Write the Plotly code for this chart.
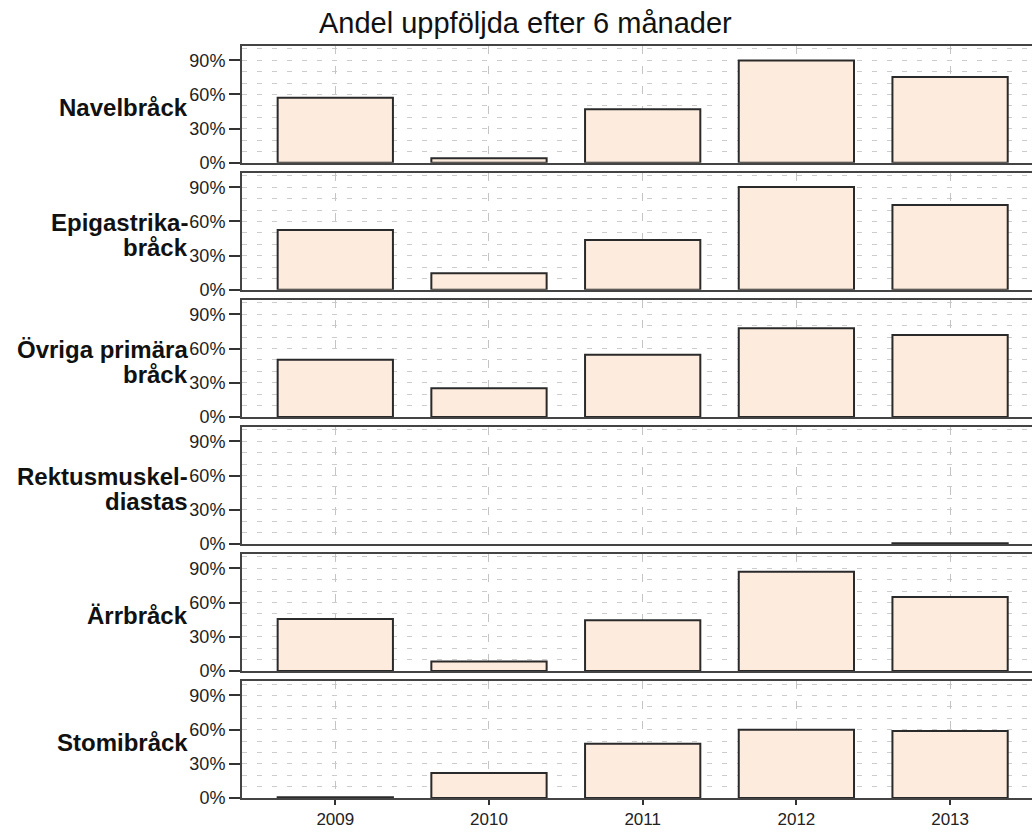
import plotly.graph_objects as go
from plotly.subplots import make_subplots

years = ["2009", "2010", "2011", "2012", "2013"]
group_lines = [["Navelbråck"], ["Epigastrika-", "bråck"], ["Övriga primära", "bråck"],
               ["Rektusmuskel-", "diastas"], ["Ärrbråck"], ["Stomibråck"]]
navel = [0.570, 0.041, 0.470, 0.897, 0.754]
epigastrika = [0.526, 0.146, 0.438, 0.903, 0.745]
ovriga = [0.502, 0.251, 0.546, 0.777, 0.719]
rektus = [None, None, None, None, 0.006]
arr = [0.456, 0.082, 0.444, 0.871, 0.649]
stomi = [0.006, 0.219, 0.476, 0.599, 0.587]
series = [navel, epigastrika, ovriga, rektus, arr, stomi]
yticks = [0, 0.3, 0.6, 0.9]

W, H = 1032, 832
L, R, T, B = 242, 0, 46, 34
plot_h = H - T - B
plot_w = W - L - R
gap = 10.2
fig = make_subplots(rows=6, cols=1, shared_xaxes=True, vertical_spacing=gap / plot_h)

font = "Liberation Sans, Arial, sans-serif"
for i, vals in enumerate(series):
    fig.add_trace(go.Bar(x=years, y=vals, width=0.75,
                         marker=dict(color="#FDEBDD", line=dict(color="#2a2a2a", width=2)),
                         showlegend=False, hoverinfo="skip"), row=i + 1, col=1)
    fig.update_yaxes(row=i + 1, col=1, range=[0, 1.025], tickvals=yticks, tickformat=".0%",
                     ticks="outside", ticklen=11, tickwidth=2, tickcolor="#333",
                     showline=True, linecolor="#444", linewidth=2, automargin=False,
                     showgrid=True, gridcolor="#cccccc", griddash="5px,10px", gridwidth=1,
                     minor=dict(dtick=0.1, tick0=0, showgrid=True, gridcolor="#cccccc",
                                griddash="5px,10px", gridwidth=1),
                     tickfont=dict(size=18, color="#222", family=font), zeroline=False,
                     fixedrange=True)
    fig.update_xaxes(row=i + 1, col=1, range=[-0.607, 4.533], showline=True, mirror=True,
                     linecolor="#444", linewidth=2, showgrid=True, gridcolor="#c4c4c4",
                     griddash="8px,12px", gridwidth=1, automargin=False,
                     ticks="outside" if i == 5 else "", ticklen=5, tickwidth=2, tickcolor="#333",
                     tickfont=dict(size=17, color="#222", family=font), fixedrange=True)

# row labels
dom_h = (plot_h - 5 * gap) / 6
for i, lines in enumerate(group_lines):
    center_px = i * (dom_h + gap) + dom_h / 2  # from top of plot area
    if len(lines) == 1:
        offsets = [3]
    else:
        offsets = [-9, 16]
    for ln, off in zip(lines, offsets):
        ypx = center_px + off
        fig.add_annotation(text="<b>" + ln + "</b>", xref="paper", yref="paper",
                           x=-52 / plot_w, y=1 - ypx / plot_h, xanchor="right", yanchor="middle",
                           align="right", showarrow=False,
                           font=dict(size=24, color="#111", family=font))

fig.add_annotation(text="Andel uppföljda efter 6 månader", xref="paper", yref="paper",
                   x=(525 - L) / plot_w, y=1 + (T - 23) / plot_h, xanchor="center",
                   yanchor="middle", showarrow=False,
                   font=dict(size=29, color="#111", family=font))

fig.update_layout(width=W, height=H, margin=dict(l=L, r=R, t=T, b=B),
                  plot_bgcolor="white", paper_bgcolor="white", bargap=0.25,
                  font=dict(family=font))
fig.write_html("out.html", config={"displayModeBar": False},
               post_script="document.body.style.margin='0px';document.body.style.overflow='hidden';")
